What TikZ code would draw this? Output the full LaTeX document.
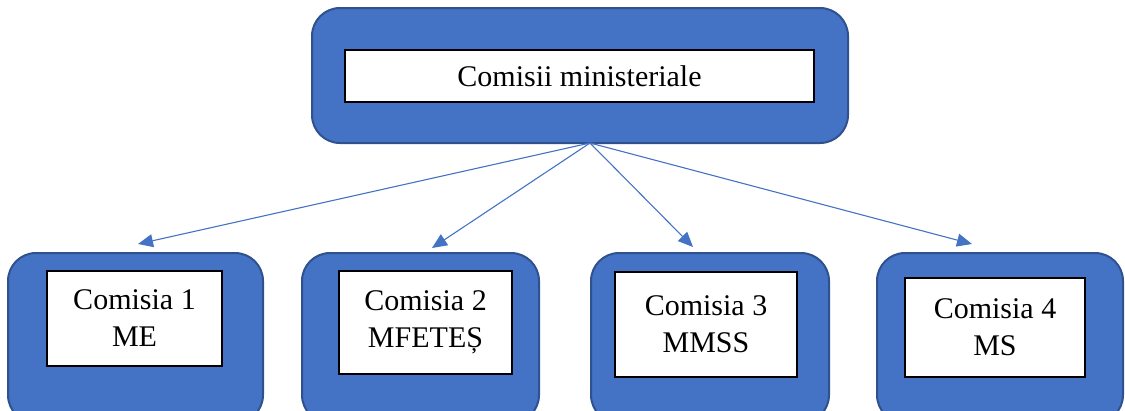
\documentclass[tikz,border=0pt]{standalone}
\usepackage{fontspec}
\setmainfont{Liberation Serif}
\usetikzlibrary{arrows.meta}
\definecolor{boxfill}{HTML}{4472C4}
\definecolor{boxline}{HTML}{2F528F}
\begin{document}
\begin{tikzpicture}[x=1pt,y=-1pt,
  outerbox/.style={draw=boxline, fill=boxfill, line width=2pt, rounded corners=28pt, minimum width=#1, inner sep=0pt},
  innerbox/.style={draw=black, fill=white, line width=2pt, inner sep=0pt, align=center,
     font=\fontsize{30}{37}\selectfont},
  conn/.style={draw=boxfill, line width=1.1pt, -{Triangle[length=15pt,width=13pt]}}]
\useasboundingbox (0,0) rectangle (1125,410);
\clip (0,0) rectangle (1125,410);
% top
\node[outerbox=536pt, minimum height=135pt] (top) at (580,75.5) {};
\node[innerbox, minimum width=469pt, minimum height=52pt] (toptext) at (579.5,76) {Comisii ministeriale};
% bottom outer boxes
\node[outerbox=255pt, minimum height=170pt] (o1) at (135.5,338) {};
\node[outerbox=237pt, minimum height=170pt] (o2) at (420.5,338) {};
\node[outerbox=238pt, minimum height=170pt] (o3) at (710,338) {};
\node[outerbox=246pt, minimum height=170pt] (o4) at (1000,338) {};
% inner boxes
\node[innerbox, minimum width=175pt, minimum height=95pt] (c1) at (134.5,318.5) {Comisia 1\\ME};
\node[innerbox, minimum width=173pt, minimum height=103pt] (c2) at (425.5,322.5) {Comisia 2\\MFETEȘ};
\node[innerbox, minimum width=182pt, minimum height=105pt] (c3) at (706,324.5) {Comisia 3\\MMSS};
\node[innerbox, minimum width=180pt, minimum height=99pt] (c4) at (995,327.5) {Comisia 4\\MS};
% connectors
\coordinate (src) at (590,143);
\coordinate (t1) at (138,244);
\coordinate (t2) at (432,248);
\coordinate (t3) at (693,247);
\coordinate (t4) at (972,244);
\draw[conn] (src) -- (t1);
\draw[conn] (src) -- (t2);
\draw[conn] (src) -- (t3);
\draw[conn] (src) -- (t4);
\end{tikzpicture}
\end{document}
